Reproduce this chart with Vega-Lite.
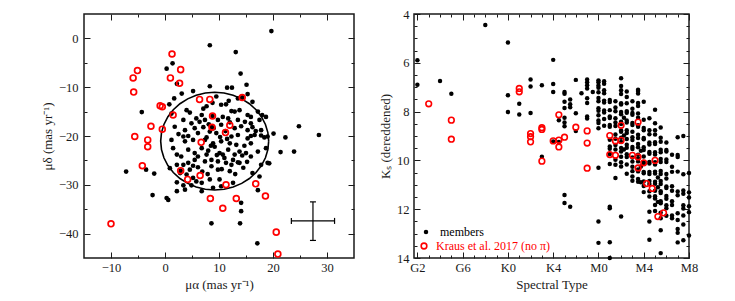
{
  "$schema": "https://vega.github.io/schema/vega-lite/v6.json",
  "padding": {"left": 40, "top": 7, "right": 5, "bottom": 5},
  "spacing": 22,
  "config": {
    "view": {"stroke": "#1a1a1a", "strokeWidth": 1.5},
    "axis": {"domain": false, "grid": false, "labelFont": "Liberation Serif", "labelFontSize": 12.5, "labelColor": "#1a1a1a", "labelFlush": false, "labelOverlap": false, "titleFont": "Liberation Serif", "titleFontSize": 13, "titleFontWeight": "normal", "titleColor": "#1a1a1a", "tickColor": "#1a1a1a", "tickWidth": 1},
    "legend": {"labelFont": "Liberation Serif", "labelFontSize": 12, "padding": 0, "symbolType": "circle"}
  },
  "datasets": {
    "lm": [
      {"x":13.1,"y":-2.8},{"x":1.4,"y":-5.1},{"x":0.3,"y":-6.2},{"x":14.0,"y":-7.2},{"x":2.2,"y":-9.3},{"x":8.3,"y":-9.8},{"x":11.5,"y":-10.1},{"x":12.4,"y":-10.1},{"x":15.1,"y":-9.5},{"x":5.2,"y":-10.8},{"x":3.1,"y":-11.3},{"x":15.3,"y":-11.4},{"x":1.7,"y":-12.3},{"x":9.5,"y":-11.9},{"x":0.8,"y":-13.5},{"x":8.8,"y":-13.2},{"x":10.4,"y":-13.6},{"x":4.0,"y":-14.7},{"x":4.6,"y":-15.2},{"x":7.1,"y":-14.4},{"x":7.7,"y":-13.9},{"x":11.3,"y":-13.5},{"x":12.3,"y":-14.9},{"x":12.9,"y":-15.0},{"x":13.8,"y":-14.7},{"x":15.3,"y":-15.7},{"x":15.9,"y":-16.1},{"x":17.2,"y":-15.0},{"x":6.8,"y":-15.7},{"x":5.8,"y":-16.4},{"x":1.2,"y":-15.4},{"x":3.4,"y":-16.7},{"x":4.9,"y":-17.4},{"x":6.4,"y":-17.1},{"x":7.4,"y":-16.7},{"x":9.8,"y":-16.7},{"x":10.7,"y":-16.1},{"x":11.7,"y":-16.4},{"x":13.5,"y":-16.7},{"x":14.8,"y":-17.1},{"x":15.9,"y":-17.4},{"x":17.5,"y":-16.7},{"x":18.7,"y":-16.1},{"x":1.8,"y":-18.1},{"x":3.7,"y":-18.8},{"x":5.5,"y":-18.4},{"x":7.1,"y":-18.2},{"x":10.4,"y":-17.7},{"x":12.9,"y":-18.4},{"x":14.1,"y":-18.0},{"x":15.3,"y":-18.8},{"x":16.2,"y":-18.2},{"x":17.8,"y":-18.8},{"x":2.5,"y":-19.6},{"x":4.3,"y":-20.0},{"x":6.1,"y":-19.4},{"x":7.7,"y":-20.3},{"x":9.5,"y":-19.4},{"x":13.5,"y":-19.8},{"x":15.9,"y":-20.0},{"x":18.4,"y":-20.3},
      {"x":8.3,"y":-19.1},{"x":16.6,"y":-19.8},{"x":17.8,"y":-19.9},{"x":19.0,"y":-20.1},{"x":3.4,"y":-20.1},{"x":12.3,"y":-20.1},{"x":15.3,"y":-20.5},
      {"x":3.7,"y":-21.1},{"x":5.2,"y":-20.8},{"x":7.4,"y":-20.8},{"x":8.9,"y":-21.5},{"x":10.4,"y":-21.1},{"x":12.0,"y":-21.5},{"x":13.2,"y":-21.8},{"x":14.7,"y":-22.0},{"x":15.9,"y":-21.5},{"x":1.2,"y":-20.8},{"x":2.2,"y":-23.8},{"x":4.3,"y":-22.8},{"x":5.5,"y":-23.5},{"x":6.8,"y":-22.5},{"x":8.0,"y":-23.0},{"x":9.2,"y":-22.2},{"x":10.1,"y":-23.5},{"x":10.7,"y":-23.8},{"x":11.7,"y":-22.8},{"x":12.9,"y":-23.8},{"x":13.8,"y":-23.2},{"x":15.0,"y":-23.5},{"x":15.9,"y":-24.2},{"x":17.2,"y":-23.2},{"x":18.7,"y":-22.5},{"x":6.1,"y":-24.2},{"x":7.7,"y":-23.8},{"x":8.6,"y":-24.9},{"x":9.8,"y":-25.2},{"x":11.0,"y":-24.5},{"x":12.6,"y":-24.9},{"x":13.8,"y":-25.5},{"x":7.4,"y":-25.2},{"x":5.5,"y":-24.9},{"x":2.2,"y":-25.9},{"x":3.4,"y":-25.9},{"x":4.3,"y":-25.5},{"x":5.2,"y":-26.1},{"x":6.1,"y":-26.4},{"x":4.6,"y":-26.9},{"x":8.6,"y":-26.2},{"x":9.8,"y":-26.9},{"x":12.3,"y":-25.9},{"x":13.5,"y":-25.4},{"x":17.8,"y":-25.9},{"x":19.0,"y":-25.5},{"x":-2.0,"y":-27.7},{"x":0.9,"y":-26.6},{"x":2.8,"y":-27.6},{"x":4.0,"y":-27.9},{"x":5.2,"y":-28.6},{"x":5.8,"y":-29.3},{"x":6.8,"y":-29.6},{"x":8.3,"y":-28.9},{"x":10.1,"y":-28.9},{"x":12.6,"y":-29.6},{"x":2.2,"y":-29.5},{"x":3.4,"y":-30.1},{"x":4.9,"y":-30.1},{"x":2.2,"y":-31.3},{"x":3.7,"y":-31.0},{"x":6.8,"y":-31.3},{"x":10.4,"y":-30.3},{"x":8.9,"y":-30.6},{"x":16.2,"y":-27.6},{"x":17.5,"y":-28.3},{"x":17.2,"y":-31.1},{"x":14.1,"y":-33.7},{"x":14.1,"y":-35.4},{"x":0.3,"y":-32.7},{"x":0.6,"y":-33.1},{"x":-2.3,"y":-32.1},
      {"x":19.7,"y":1.5},{"x":8.3,"y":-1.4},{"x":-4.3,"y":-15.1},{"x":-7.2,"y":-27.3},{"x":-3.5,"y":-26.9},{"x":20.1,"y":-19.5},{"x":22.3,"y":-20.3},{"x":21.4,"y":-23.3},{"x":23.9,"y":-23.2},{"x":24.8,"y":-18.0},{"x":28.5,"y":-19.8},{"x":18.0,"y":-15.7},{"x":8.6,"y":-37.9},{"x":13.9,"y":-37.9},{"x":17.1,"y":-42.0},{"x":19.3,"y":-25.6},
      {"x":8.1,"y":-17.6},{"x":9.0,"y":-18.4},{"x":11.2,"y":-19.0},{"x":12.0,"y":-17.2},{"x":10.2,"y":-20.2},{"x":11.5,"y":-20.6},{"x":8.5,"y":-22.0},{"x":9.6,"y":-23.9},{"x":11.3,"y":-25.5},{"x":10.5,"y":-26.8},{"x":12.0,"y":-27.2},{"x":13.0,"y":-27.8},{"x":14.5,"y":-26.5},{"x":15.2,"y":-25.3},{"x":14.3,"y":-24.0},{"x":6.9,"y":-27.3},{"x":7.9,"y":-27.8},{"x":3.0,"y":-24.2},{"x":1.5,"y":-22.5},{"x":11.8,"y":-12.8},{"x":13.5,"y":-12.3},{"x":16.2,"y":-13.0},{"x":16.8,"y":-19.0},{"x":14.3,"y":-12.1},{"x":2.9,"y":-27.1},{"x":8.7,"y":-18.2},{"x":8.8,"y":-15.9}
    ],
    "lk": [
      {"x":1.3,"y":-3.2},{"x":2.9,"y":-6.4},{"x":-5.1,"y":-6.6},{"x":-5.9,"y":-8.1},{"x":1.0,"y":-8.1},{"x":2.7,"y":-9.2},{"x":-5.8,"y":-11.0},{"x":6.4,"y":-12.5},{"x":8.3,"y":-12.5},{"x":14.3,"y":-12.1},{"x":-0.9,"y":-13.8},{"x":-0.5,"y":-14.0},{"x":1.5,"y":-15.7},{"x":8.8,"y":-15.9},{"x":-2.6,"y":-18.0},{"x":-0.5,"y":-18.6},{"x":8.7,"y":-18.2},{"x":12.0,"y":-17.8},{"x":11.2,"y":-19.3},{"x":-5.6,"y":-20.1},{"x":-3.2,"y":-20.8},{"x":-3.2,"y":-22.2},{"x":6.7,"y":-21.3},{"x":-4.2,"y":-26.1},{"x":2.9,"y":-27.1},{"x":6.5,"y":-28.1},{"x":4.2,"y":-28.9},{"x":11.3,"y":-30.0},{"x":16.8,"y":-29.8},{"x":8.4,"y":-32.8},{"x":13.2,"y":-32.8},{"x":18.6,"y":-32.3},{"x":10.7,"y":-34.8},{"x":-10.0,"y":-38.0},{"x":20.6,"y":-39.7},{"x":20.9,"y":-44.2}
    ],
    "ring": [
      {"i":0,"x":19.2,"y":-21.05},{"i":1,"x":19.05,"y":-19.31},{"i":2,"x":18.6,"y":-17.63},{"i":3,"x":17.86,"y":-16.05},{"i":4,"x":16.86,"y":-14.62},{"i":5,"x":15.63,"y":-13.39},{"i":6,"x":14.2,"y":-12.39},{"i":7,"x":12.62,"y":-11.65},{"i":8,"x":10.94,"y":-11.2},{"i":9,"x":9.2,"y":-11.05},{"i":10,"x":7.46,"y":-11.2},{"i":11,"x":5.78,"y":-11.65},{"i":12,"x":4.2,"y":-12.39},{"i":13,"x":2.77,"y":-13.39},{"i":14,"x":1.54,"y":-14.62},{"i":15,"x":0.54,"y":-16.05},{"i":16,"x":-0.2,"y":-17.63},{"i":17,"x":-0.65,"y":-19.31},{"i":18,"x":-0.8,"y":-21.05},{"i":19,"x":-0.65,"y":-22.79},{"i":20,"x":-0.2,"y":-24.47},{"i":21,"x":0.54,"y":-26.05},{"i":22,"x":1.54,"y":-27.48},{"i":23,"x":2.77,"y":-28.71},{"i":24,"x":4.2,"y":-29.71},{"i":25,"x":5.78,"y":-30.45},{"i":26,"x":7.46,"y":-30.9},{"i":27,"x":9.2,"y":-31.05},{"i":28,"x":10.94,"y":-30.9},{"i":29,"x":12.62,"y":-30.45},{"i":30,"x":14.2,"y":-29.71},{"i":31,"x":15.63,"y":-28.71},{"i":32,"x":16.86,"y":-27.48},{"i":33,"x":17.86,"y":-26.05},{"i":34,"x":18.6,"y":-24.47},{"i":35,"x":19.05,"y":-22.79},{"i":36,"x":19.2,"y":-21.05}
    ],
    "err": [{"x":27.4,"y":-37.4,"xlo":23.4,"xhi":31.4,"ylo":-41.4,"yhi":-33.5}],
    "rm": [
      {"t":2,"k":5.9},{"t":2,"k":6.9},{"t":4,"k":6.75},{"t":5,"k":7.27},{"t":8,"k":4.45},{"t":10,"k":5.17},{"t":10,"k":7.33},{"t":10,"k":8.02},{"t":11,"k":7.68},{"t":11,"k":8.12},{"t":12,"k":6.68},{"t":12,"k":6.97},{"t":12,"k":8.06},{"t":13,"k":6.92},{"t":13,"k":9.85},{"t":14,"k":5.88},{"t":14,"k":6.87},{"t":14,"k":7.2},{"t":14,"k":9.22},{"t":14.5,"k":8.35},{"t":14.5,"k":9.25},
      {"t":15,"k":7.2},{"t":15,"k":7.27},{"t":15,"k":7.6},{"t":15,"k":7.85},{"t":15,"k":8.25},{"t":15,"k":8.45},{"t":15,"k":8.6},{"t":15,"k":11.42},{"t":15,"k":11.75},{"t":15.5,"k":7.5},{"t":15.5,"k":7.7},{"t":15.5,"k":7.82},{"t":15.5,"k":11.9},{"t":16,"k":6.7},{"t":16,"k":8.07},{"t":16,"k":8.8},{"t":16.5,"k":7.25},
      {"t":17,"k":6.68},{"t":17,"k":6.8},{"t":17,"k":6.92},{"t":17,"k":7.05},{"t":17,"k":7.45},{"t":17,"k":7.65},{"t":17,"k":8.2},{"t":17,"k":8.28},{"t":17.5,"k":7.2},
      {"t":18,"k":6.72},{"t":18,"k":6.8},{"t":18,"k":6.93},{"t":18,"k":7.02},{"t":18,"k":7.21},{"t":18,"k":7.44},{"t":18,"k":7.58},{"t":18,"k":7.86},{"t":18,"k":7.97},{"t":18,"k":8.15},{"t":18,"k":8.36},{"t":18,"k":8.47},{"t":18,"k":8.68},{"t":18,"k":10.3},{"t":18,"k":12.5},{"t":18,"k":13.38},
      {"t":18.5,"k":6.76},{"t":18.5,"k":6.86},{"t":18.5,"k":7.12},{"t":18.5,"k":7.25},{"t":18.5,"k":7.55},{"t":18.5,"k":7.63},{"t":18.5,"k":7.95},{"t":18.5,"k":8.04},{"t":18.5,"k":8.3},{"t":18.5,"k":8.58},
      {"t":19,"k":7.52},{"t":19,"k":7.61},{"t":19,"k":7.94},{"t":19,"k":8.2},{"t":19,"k":8.26},{"t":19,"k":8.55},{"t":19,"k":8.62},{"t":19,"k":9.15},{"t":19,"k":9.43},{"t":19,"k":9.52},{"t":19,"k":9.74},{"t":19,"k":10.15},{"t":19,"k":11.9},{"t":19,"k":11.96},{"t":19,"k":13.35},{"t":19,"k":14.0},
      {"t":19.5,"k":7.58},{"t":19.5,"k":7.83},{"t":19.5,"k":7.99},{"t":19.5,"k":8.27},{"t":19.5,"k":8.45},{"t":19.5,"k":8.59},{"t":19.5,"k":8.94},{"t":19.5,"k":9.11},{"t":19.5,"k":9.37},{"t":19.5,"k":9.55},{"t":19.5,"k":9.97},{"t":19.5,"k":10.18},{"t":19.5,"k":10.72},
      {"t":20,"k":6.63},{"t":20,"k":6.95},{"t":20,"k":7.12},{"t":20,"k":7.28},{"t":20,"k":7.66},{"t":20,"k":7.71},{"t":20,"k":8.02},{"t":20,"k":8.11},{"t":20,"k":8.42},{"t":20,"k":8.51},{"t":20,"k":8.77},{"t":20,"k":8.83},{"t":20,"k":9.07},{"t":20,"k":9.25},{"t":20,"k":9.49},{"t":20,"k":9.64},{"t":20,"k":9.85},{"t":20,"k":10.08},{"t":20,"k":10.25},{"t":20,"k":12.3},
      {"t":20.25,"k":8.25},{"t":20.25,"k":8.98},{"t":20.25,"k":9.55},
      {"t":20.5,"k":7.18},{"t":20.5,"k":7.4},{"t":20.5,"k":7.66},{"t":20.5,"k":7.98},{"t":20.5,"k":8.05},{"t":20.5,"k":8.36},{"t":20.5,"k":8.45},{"t":20.5,"k":8.76},{"t":20.5,"k":8.88},{"t":20.5,"k":9.12},{"t":20.5,"k":9.36},{"t":20.5,"k":9.48},{"t":20.5,"k":9.75},{"t":20.5,"k":9.86},{"t":20.5,"k":10.17},{"t":20.5,"k":10.55},
      {"t":21,"k":7.58},{"t":21,"k":7.88},{"t":21,"k":8.06},{"t":21,"k":8.13},{"t":21,"k":8.47},{"t":21,"k":8.55},{"t":21,"k":8.83},{"t":21,"k":9.05},{"t":21,"k":9.16},{"t":21,"k":9.45},{"t":21,"k":9.53},{"t":21,"k":9.88},{"t":21,"k":10.05},{"t":21,"k":10.26},{"t":21,"k":10.44},{"t":21,"k":10.66},{"t":21,"k":10.83},
      {"t":21.5,"k":7.1},{"t":21.5,"k":7.16},{"t":21.5,"k":7.26},{"t":21.5,"k":7.65},{"t":21.5,"k":7.77},{"t":21.5,"k":8.08},{"t":21.5,"k":8.25},{"t":21.5,"k":8.56},{"t":21.5,"k":8.62},{"t":21.5,"k":8.95},{"t":21.5,"k":9.08},{"t":21.5,"k":9.33},{"t":21.5,"k":9.46},{"t":21.5,"k":9.77},{"t":21.5,"k":9.92},{"t":21.5,"k":10.04},{"t":21.5,"k":10.37},{"t":21.5,"k":10.45},{"t":21.5,"k":10.76},{"t":21.5,"k":10.88},
      {"t":21.75,"k":9.6},{"t":21.75,"k":10.25},{"t":21.75,"k":10.9},
      {"t":22,"k":7.6},{"t":22,"k":8.33},{"t":22,"k":8.67},{"t":22,"k":8.76},{"t":22,"k":9.08},{"t":22,"k":9.13},{"t":22,"k":9.46},{"t":22,"k":9.57},{"t":22,"k":9.84},{"t":22,"k":10.07},{"t":22,"k":10.14},{"t":22,"k":10.47},{"t":22,"k":10.53},{"t":22,"k":10.86},{"t":22,"k":11.05},{"t":22,"k":11.3},
      {"t":22.5,"k":8.27},{"t":22.5,"k":8.76},{"t":22.5,"k":8.93},{"t":22.5,"k":9.27},{"t":22.5,"k":9.35},{"t":22.5,"k":9.66},{"t":22.5,"k":9.73},{"t":22.5,"k":10.06},{"t":22.5,"k":10.13},{"t":22.5,"k":10.47},{"t":22.5,"k":10.56},{"t":22.5,"k":10.84},{"t":22.5,"k":10.97},{"t":22.5,"k":11.26},{"t":22.5,"k":11.48},{"t":22.5,"k":12.1},{"t":22.5,"k":12.5},{"t":22.5,"k":13.25},
      {"t":23,"k":7.92},{"t":23,"k":8.48},{"t":23,"k":8.76},{"t":23,"k":8.94},{"t":23,"k":9.26},{"t":23,"k":9.33},{"t":23,"k":9.67},{"t":23,"k":9.76},{"t":23,"k":10.08},{"t":23,"k":10.17},{"t":23,"k":10.46},{"t":23,"k":10.54},{"t":23,"k":10.87},{"t":23,"k":10.96},{"t":23,"k":11.24},{"t":23,"k":11.47},{"t":23,"k":11.56},{"t":23,"k":11.83},{"t":23,"k":12.07},
      {"t":23.25,"k":10.7},{"t":23.25,"k":11.1},{"t":23.25,"k":11.7},
      {"t":23.5,"k":8.65},{"t":23.5,"k":9.07},{"t":23.5,"k":9.24},{"t":23.5,"k":9.56},{"t":23.5,"k":9.67},{"t":23.5,"k":9.94},{"t":23.5,"k":10.07},{"t":23.5,"k":10.43},{"t":23.5,"k":10.56},{"t":23.5,"k":10.84},{"t":23.5,"k":10.97},{"t":23.5,"k":11.26},{"t":23.5,"k":11.34},{"t":23.5,"k":11.67},{"t":23.5,"k":11.76},{"t":23.5,"k":12.14},{"t":23.5,"k":12.37},{"t":23.5,"k":12.86},{"t":23.5,"k":13.8},
      {"t":24,"k":9.27},{"t":24,"k":9.57},{"t":24,"k":9.64},{"t":24,"k":9.96},{"t":24,"k":10.07},{"t":24,"k":10.56},{"t":24,"k":10.74},{"t":24,"k":11.07},{"t":24,"k":11.13},{"t":24,"k":11.46},{"t":24,"k":11.57},{"t":24,"k":11.84},{"t":24,"k":11.96},{"t":24,"k":12.27},
      {"t":24.5,"k":9.77},{"t":24.5,"k":10.26},{"t":24.5,"k":10.47},{"t":24.5,"k":11.06},{"t":24.5,"k":11.24},{"t":24.5,"k":11.67},{"t":24.5,"k":11.83},{"t":24.5,"k":12.26},{"t":24.5,"k":12.37},
      {"t":25,"k":9.05},{"t":25,"k":9.78},{"t":25,"k":9.86},{"t":25,"k":10.46},{"t":25,"k":11.27},{"t":25,"k":11.43},{"t":25,"k":12.17},{"t":25,"k":12.44},{"t":25,"k":12.81},{"t":25,"k":12.97},{"t":25,"k":13.36},
      {"t":25.5,"k":9.0},{"t":25.5,"k":10.57},{"t":25.5,"k":11.23},{"t":25.5,"k":11.37},{"t":25.5,"k":11.84},{"t":25.5,"k":11.97},{"t":25.5,"k":12.26},{"t":25.5,"k":12.63},{"t":25.5,"k":13.27},
      {"t":26,"k":10.52},{"t":26,"k":11.31},{"t":26,"k":11.52},{"t":26,"k":11.88},{"t":26,"k":12.12},{"t":26,"k":13.08}
    ],
    "rk": [
      {"t":3,"k":7.68},{"t":5,"k":8.35},{"t":5,"k":9.13},{"t":11,"k":7.05},{"t":11,"k":7.19},{"t":12,"k":8.9},{"t":12,"k":9.03},{"t":12,"k":9.24},{"t":13,"k":8.66},{"t":13,"k":8.73},{"t":13,"k":10.03},{"t":14,"k":9.2},{"t":14.5,"k":8.13},{"t":14.5,"k":9.17},{"t":14.5,"k":9.45},{"t":15,"k":9.05},{"t":16,"k":8.64},{"t":17,"k":8.79},{"t":17,"k":9.29},{"t":17,"k":10.32},{"t":19,"k":8.98},{"t":19,"k":9.76},{"t":19.5,"k":9.79},{"t":19.5,"k":9.2},{"t":20,"k":8.56},{"t":20,"k":9.18},{"t":21,"k":9.79},{"t":21.5,"k":8.43},{"t":21.5,"k":9.86},{"t":21.5,"k":10.31},{"t":22,"k":10.1},{"t":23,"k":10.0},{"t":22.25,"k":10.95},{"t":22.75,"k":11.15},{"t":23.25,"k":12.3},{"t":23.75,"k":12.15}
    ]
  },
  "hconcat": [
    {
      "width": 270,
      "height": 244,
      "layer": [
        {
          "data": {"name": "ring"},
          "mark": {"type": "line", "color": "#000", "strokeWidth": 1.6},
          "encoding": {
            "x": {"field": "x", "type": "quantitative", "scale": {"domain": [-15, 35], "nice": false, "zero": false}, "axis": {"orient": "top", "values": [-10, 0, 10, 20, 30], "tickSize": -6, "labels": false, "title": null}},
            "y": {"field": "y", "type": "quantitative", "scale": {"domain": [-45, 5], "nice": false, "zero": false}, "axis": {"orient": "right", "values": [-40, -30, -20, -10, 0], "tickSize": -6, "labels": false, "title": null}},
            "order": {"field": "i", "type": "quantitative"}
          }
        },
        {
          "data": {"name": "lm"},
          "mark": {"type": "circle", "size": 22, "color": "#000", "opacity": 1},
          "encoding": {
            "x": {"field": "x", "type": "quantitative", "axis": {"orient": "bottom", "values": [-10, 0, 10, 20, 30], "tickSize": -6, "labelPadding": 9, "title": "μα (mas yr⁻¹)", "titlePadding": 5}},
            "y": {"field": "y", "type": "quantitative", "axis": {"orient": "left", "values": [-40, -30, -20, -10, 0], "tickSize": -6, "labelPadding": 12, "title": "μδ (mas yr⁻¹)", "titlePadding": 4}}
          }
        },
        {
          "data": {"name": "lk"},
          "mark": {"type": "point", "shape": "circle", "size": 34, "filled": false, "color": "#ff0000", "strokeWidth": 1.7, "opacity": 1},
          "encoding": {
            "x": {"field": "x", "type": "quantitative", "axis": {"orient": "bottom", "values": [-5, 5, 15, 25], "tickSize": -3, "labels": false, "title": null}},
            "y": {"field": "y", "type": "quantitative", "axis": {"orient": "left", "values": [-35, -25, -15, -5], "tickSize": -3, "labels": false, "title": null}}
          }
        },
        {
          "data": {"name": "err"},
          "mark": {"type": "rule", "color": "#000", "strokeWidth": 1.2},
          "encoding": {
            "x": {"field": "xlo", "type": "quantitative", "axis": {"orient": "top", "values": [-5, 5, 15, 25], "tickSize": -3, "labels": false, "title": null}},
            "x2": {"field": "xhi"},
            "y": {"field": "y", "type": "quantitative", "axis": {"orient": "right", "values": [-35, -25, -15, -5], "tickSize": -3, "labels": false, "title": null}}
          }
        },
        {
          "data": {"name": "err"},
          "mark": {"type": "rule", "color": "#000", "strokeWidth": 1.2},
          "encoding": {
            "x": {"field": "x", "type": "quantitative", "axis": null},
            "y": {"field": "ylo", "type": "quantitative", "axis": null},
            "y2": {"field": "yhi"}
          }
        },
        {
          "data": {"name": "err"},
          "mark": {"type": "tick", "orient": "vertical", "size": 6, "thickness": 1.2, "color": "#000", "opacity": 1},
          "encoding": {"x": {"field": "xlo", "type": "quantitative", "axis": null}, "y": {"field": "y", "type": "quantitative", "axis": null}}
        },
        {
          "data": {"name": "err"},
          "mark": {"type": "tick", "orient": "vertical", "size": 6, "thickness": 1.2, "color": "#000", "opacity": 1},
          "encoding": {"x": {"field": "xhi", "type": "quantitative", "axis": null}, "y": {"field": "y", "type": "quantitative", "axis": null}}
        },
        {
          "data": {"name": "err"},
          "mark": {"type": "tick", "orient": "horizontal", "size": 6, "thickness": 1.2, "color": "#000", "opacity": 1},
          "encoding": {"x": {"field": "x", "type": "quantitative", "axis": null}, "y": {"field": "ylo", "type": "quantitative", "axis": null}}
        },
        {
          "data": {"name": "err"},
          "mark": {"type": "tick", "orient": "horizontal", "size": 6, "thickness": 1.2, "color": "#000", "opacity": 1},
          "encoding": {"x": {"field": "x", "type": "quantitative", "axis": null}, "y": {"field": "yhi", "type": "quantitative", "axis": null}}
        }
      ],
      "resolve": {"axis": {"x": "independent", "y": "independent"}}
    },
    {
      "width": 275,
      "height": 244,
      "layer": [
        {
          "data": {"name": "rm"},
          "mark": {"type": "circle", "size": 20, "opacity": 1},
          "encoding": {
            "x": {"field": "t", "type": "quantitative", "scale": {"domain": [1.7, 26], "nice": false, "zero": false}, "axis": {"orient": "bottom", "values": [2, 6, 10, 14, 18, 22, 26], "tickSize": -6, "labelPadding": 9, "labelExpr": "datum.value < 10 ? 'G' + datum.value : datum.value < 18 ? 'K' + (datum.value - 10) : 'M' + (datum.value - 18)", "title": "Spectral Type", "titlePadding": 5}},
            "y": {"field": "k", "type": "quantitative", "scale": {"domain": [4, 14], "reverse": true, "nice": false, "zero": false}, "axis": {"orient": "left", "values": [4, 6, 8, 10, 12, 14], "tickSize": -6, "labelPadding": 11, "title": "Kₛ (dereddened)", "titlePadding": 4}},
            "fill": {"datum": "members", "type": "nominal", "scale": {"domain": ["members"], "range": ["#000000"]},
              "legend": {"orient": "none", "legendX": 336, "legendY": 212, "title": null, "labelColor": "#000000", "labelOffset": 8, "symbolSize": 20, "symbolStrokeWidth": 0}}
          }
        },
        {
          "data": {"name": "rk"},
          "mark": {"type": "point", "shape": "circle", "size": 32, "filled": false, "strokeWidth": 1.6, "opacity": 1},
          "encoding": {
            "x": {"field": "t", "type": "quantitative", "axis": {"orient": "bottom", "values": [3, 4, 5, 7, 8, 9, 11, 12, 13, 15, 16, 17, 19, 20, 21, 23, 24, 25], "tickSize": -3, "labels": false, "title": null}},
            "y": {"field": "k", "type": "quantitative", "axis": {"orient": "left", "values": [4.5, 5, 5.5, 6.5, 7, 7.5, 8.5, 9, 9.5, 10.5, 11, 11.5, 12.5, 13, 13.5], "tickSize": -3, "labels": false, "title": null}},
            "stroke": {"datum": "Kraus et al. 2017 (no π)", "type": "nominal", "scale": {"domain": ["Kraus et al. 2017 (no π)"], "range": ["#ff0000"]},
              "legend": {"orient": "none", "legendX": 334, "legendY": 226, "title": null, "labelColor": "#ff0000", "labelOffset": 6, "symbolSize": 32, "symbolStrokeWidth": 1.6, "symbolFillColor": "transparent"}}
          }
        },
        {
          "data": {"name": "rk"},
          "mark": {"type": "point", "opacity": 0},
          "encoding": {
            "x": {"field": "t", "type": "quantitative", "axis": {"orient": "top", "values": [2, 6, 10, 14, 18, 22, 26], "tickSize": -6, "labels": false, "title": null}},
            "y": {"field": "k", "type": "quantitative", "axis": {"orient": "right", "values": [4, 6, 8, 10, 12, 14], "tickSize": -6, "labels": false, "title": null}}
          }
        },
        {
          "data": {"name": "rk"},
          "mark": {"type": "point", "opacity": 0},
          "encoding": {
            "x": {"field": "t", "type": "quantitative", "axis": {"orient": "top", "values": [3, 4, 5, 7, 8, 9, 11, 12, 13, 15, 16, 17, 19, 20, 21, 23, 24, 25], "tickSize": -3, "labels": false, "title": null}},
            "y": {"field": "k", "type": "quantitative", "axis": {"orient": "right", "values": [4.5, 5, 5.5, 6.5, 7, 7.5, 8.5, 9, 9.5, 10.5, 11, 11.5, 12.5, 13, 13.5], "tickSize": -3, "labels": false, "title": null}}
          }
        }
      ],
      "resolve": {"axis": {"x": "independent", "y": "independent"}}
    }
  ]
}
